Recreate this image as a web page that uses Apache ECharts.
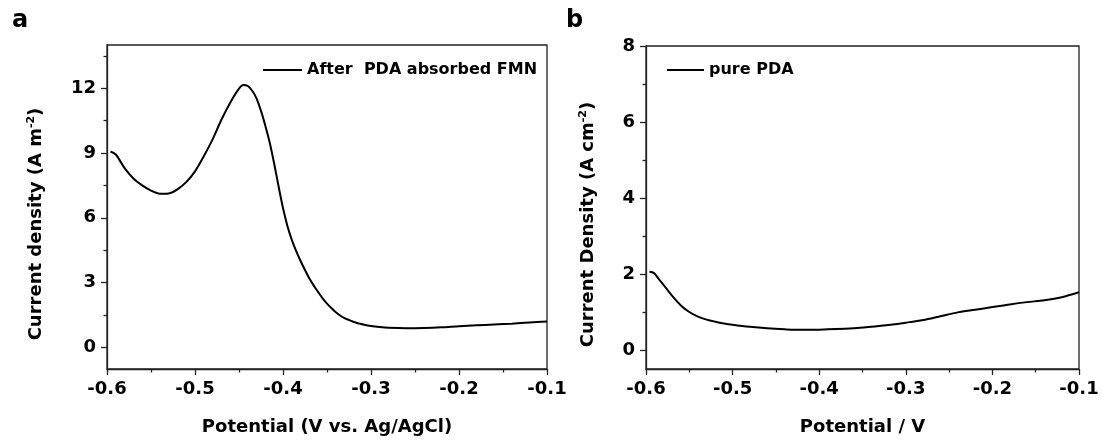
<!DOCTYPE html>
<html>
<head>
<meta charset="utf-8">
<script src="https://cdn.jsdelivr.net/npm/echarts@6/dist/echarts.min.js"></script>
<style>
  html, body { margin: 0; padding: 0; background: #fff; }
  #chart { width: 1102px; height: 441px; }
</style>
</head>
<body>
<div id="chart"></div>
<script>
// panel a: after PDA absorbed FMN
const potentialA = [-0.596, -0.590, -0.580, -0.570, -0.560, -0.550, -0.540, -0.530, -0.520, -0.510,
  -0.500, -0.490, -0.480, -0.470, -0.460, -0.450, -0.445, -0.440, -0.435, -0.430,
  -0.425, -0.420, -0.415, -0.410, -0.405, -0.400, -0.395, -0.390, -0.385, -0.380,
  -0.375, -0.370, -0.365, -0.360, -0.355, -0.350, -0.345, -0.340, -0.330, -0.320,
  -0.310, -0.300, -0.290, -0.280, -0.260, -0.240, -0.220, -0.200, -0.180, -0.160,
  -0.140, -0.120, -0.100];
const currentA = [9.07, 8.93, 8.30, 7.82, 7.50, 7.26, 7.11, 7.13, 7.32, 7.65,
  8.15, 8.85, 9.63, 10.54, 11.33, 11.98, 12.15, 12.10, 11.88, 11.52,
  10.95, 10.25, 9.46, 8.50, 7.45, 6.45, 5.62, 4.98, 4.46, 4.00,
  3.58, 3.19, 2.86, 2.56, 2.27, 2.03, 1.82, 1.63, 1.35, 1.19,
  1.07, 0.99, 0.94, 0.91, 0.89, 0.90, 0.93, 0.98, 1.02, 1.06,
  1.10, 1.15, 1.20];

// panel b: pure PDA
const potentialB = [-0.596, -0.591, -0.585, -0.580, -0.570, -0.560, -0.550, -0.540, -0.530, -0.520,
  -0.510, -0.500, -0.480, -0.460, -0.440, -0.420, -0.400, -0.380, -0.360, -0.340,
  -0.320, -0.300, -0.280, -0.260, -0.240, -0.220, -0.200, -0.180, -0.160, -0.140,
  -0.120, -0.100];
const currentB = [2.06, 2.03, 1.86, 1.72, 1.43, 1.18, 1.00, 0.88, 0.80, 0.745,
  0.70, 0.665, 0.61, 0.57, 0.545, 0.53, 0.535, 0.55, 0.575, 0.61,
  0.66, 0.72, 0.79, 0.89, 0.99, 1.06, 1.13, 1.20, 1.26, 1.31,
  1.39, 1.52];

// tick labels
const yTicksA = [0, 3, 6, 9, 12];
const yMinorA = [1.5, 4.5, 7.5, 10.5, 13.5];
const yTicksB = [0, 2, 4, 6, 8];
const yMinorB = [1, 3, 5, 7];

const font = 'DejaVu Sans, Liberation Sans, sans-serif';
const axisColor = '#222';

function xAxisFor(gridIndex, name) {
  return {
    type: 'value', gridIndex: gridIndex, min: -0.6, max: -0.1, interval: 0.1,
    name: name, nameLocation: 'middle', nameGap: 49,
    nameTextStyle: { fontFamily: font, fontSize: 18, fontWeight: 'bold', color: '#000' },
    axisLine: { onZero: false, lineStyle: { color: axisColor, width: 1.3 } },
    axisTick: { length: 6, lineStyle: { color: axisColor, width: 1.3 } },
    minorTick: { show: true, splitNumber: 2, length: 3.5, lineStyle: { color: axisColor, width: 1.3 } },
    splitLine: { show: false },
    axisLabel: {
      margin: 11, fontFamily: font, fontSize: 18, fontWeight: 'bold', color: '#000',
      formatter: v => v.toFixed(1)
    }
  };
}

function yAxesFor(gridIndex, min, max, ticks, minor, nameRich, gap) {
  return [{
    type: 'value', gridIndex: gridIndex, min: min, max: max, position: 'left',
    name: nameRich, nameLocation: 'middle', nameGap: gap,
    nameTextStyle: {
      fontFamily: font, fontSize: 18, fontWeight: 'bold', color: '#000', padding: [0, 34, 0, 0],
      rich: { sup: { fontFamily: font, fontSize: 11, fontWeight: 'bold', color: '#000', verticalAlign: 'top', padding: [0, 0, 10, 0] } }
    },
    axisLine: { onZero: false, lineStyle: { color: axisColor, width: 1.3 } },
    axisTick: { customValues: ticks, length: 6, lineStyle: { color: axisColor, width: 1.3 } },
    axisLabel: { customValues: ticks, margin: 11, fontFamily: font, fontSize: 18, fontWeight: 'bold', color: '#000' },
    splitLine: { show: false }
  }, {
    type: 'value', gridIndex: gridIndex, min: min, max: max, position: 'left',
    axisLine: { show: false },
    axisTick: { customValues: minor, length: 3.5, lineStyle: { color: axisColor, width: 1.3 } },
    axisLabel: { show: false },
    splitLine: { show: false }
  }];
}

const yA = yAxesFor(0, -1, 14, yTicksA, yMinorA, 'Current density (A m{sup|-2})', 60);
const yB = yAxesFor(1, -0.5, 8, yTicksB, yMinorB, 'Current Density (A cm{sup|-2})', 47);

const chart = echarts.init(document.getElementById('chart'));
chart.setOption({
  animation: false,
  backgroundColor: '#fff',
  title: [
    { text: 'a', left: 12, top: 9, textStyle: { fontFamily: font, fontSize: 24, fontWeight: 'bold', color: '#000' }, padding: 0 },
    { text: 'b', left: 566, top: 9, textStyle: { fontFamily: font, fontSize: 24, fontWeight: 'bold', color: '#000' }, padding: 0 }
  ],
  grid: [
    { left: 107, top: 45, right: 555, bottom: 72, show: true, borderColor: axisColor, borderWidth: 1.3 },
    { left: 646, top: 46, right: 23, bottom: 72, show: true, borderColor: axisColor, borderWidth: 1.3 }
  ],
  legend: [
    {
      data: ['After  PDA absorbed FMN'], left: 263, top: 62, padding: 0,
      icon: 'rect', itemWidth: 39, itemHeight: 2, itemGap: 5,
      itemStyle: { color: '#000' },
      textStyle: { fontFamily: font, fontSize: 16, fontWeight: 'bold', color: '#000' }
    },
    {
      data: ['pure PDA'], left: 667, top: 62, padding: 0,
      icon: 'rect', itemWidth: 37, itemHeight: 2, itemGap: 5,
      itemStyle: { color: '#000' },
      textStyle: { fontFamily: font, fontSize: 16, fontWeight: 'bold', color: '#000' }
    }
  ],
  xAxis: [
    xAxisFor(0, 'Potential (V vs. Ag/AgCl)'),
    xAxisFor(1, 'Potential / V')
  ],
  yAxis: yA.concat(yB),
  series: [
    {
      name: 'After  PDA absorbed FMN', type: 'line', xAxisIndex: 0, yAxisIndex: 0,
      data: potentialA.map((x, i) => [x, currentA[i]]),
      smooth: 0.3, symbol: 'none',
      lineStyle: { color: '#000', width: 2 }, itemStyle: { color: '#000' }
    },
    {
      name: 'pure PDA', type: 'line', xAxisIndex: 1, yAxisIndex: 2,
      data: potentialB.map((x, i) => [x, currentB[i]]),
      smooth: 0.3, symbol: 'none',
      lineStyle: { color: '#000', width: 2 }, itemStyle: { color: '#000' }
    }
  ]
});
</script>
</body>
</html>
